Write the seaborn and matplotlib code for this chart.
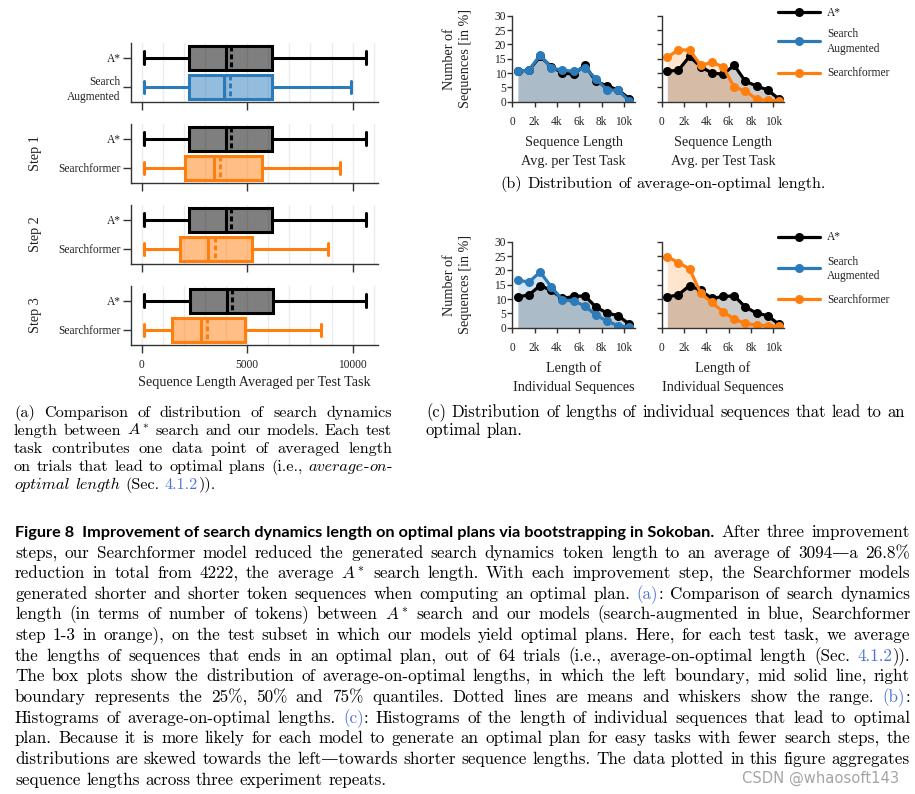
"""
Searchformer figure 8: box plots of search-dynamics length plus
histograms of average-on-optimal / individual sequence lengths.
"""

import math
import re

import matplotlib

matplotlib.use("Agg")
import matplotlib.pyplot as plt
import numpy as np
import seaborn as sns
from matplotlib.backends.backend_agg import get_hinting_flag
from matplotlib.colors import to_rgba
from matplotlib.lines import Line2D

W, H, DPI = 915, 794, 100

# ---- panel (a): box plot summaries [whislo, q1, median, mean, q3, whishi] ----
box_row_titles = ["", "Step 1", "Step 2", "Step 3"]
box_model_labels = ["Search\nAugmented", "Searchformer", "Searchformer", "Searchformer"]
astar_box = [
    [130, 2240, 3980, 4222, 6190, 10650],
    [130, 2240, 3980, 4222, 6190, 10650],
    [130, 2240, 3980, 4222, 6190, 10650],
    [130, 2290, 4040, 4270, 6220, 10650],
]
model_box = [
    [130, 2250, 3890, 4170, 6190, 9940],
    [130, 2040, 3410, 3700, 5690, 9380],
    [100, 1800, 3140, 3470, 5230, 8830],
    [100, 1450, 2820, 3094, 4880, 8510],
]

# ---- panels (b) and (c): histogram values in % at bin centres ----
bin_centres = [500, 1500, 2500, 3500, 4500, 5500, 6500, 7500, 8500, 9500, 10500]
b_astar = [10.6, 11.0, 15.8, 12.2, 10.0, 9.6, 12.7, 7.1, 5.5, 4.1, 1.0]
b_search_aug = [10.7, 11.0, 16.3, 11.7, 11.0, 10.6, 11.9, 8.0, 4.1, 4.0, 0.2]
b_searchformer = [15.5, 18.1, 18.0, 12.7, 13.7, 12.2, 5.0, 3.8, 0.9, 0.5, 0.3]
c_astar = [10.7, 11.5, 14.7, 13.0, 10.2, 10.9, 11.1, 7.2, 5.1, 4.2, 1.2]
c_search_aug = [16.5, 16.0, 19.4, 14.2, 9.7, 9.3, 7.6, 4.4, 2.3, 0.7, 0.2]
c_searchformer = [24.8, 22.7, 20.5, 12.0, 8.8, 5.6, 3.0, 1.5, 0.9, 0.7, 0.5]
hist_xticks = [0, 2000, 4000, 6000, 8000, 10000]
hist_xticklabels = ["0", "2k", "4k", "6k", "8k", "10k"]
legend_labels = ["A*", "Search\nAugmented", "Searchformer"]

# ---- caption text ([..] = link colour, {..} = italic) ----
heading = "Figure 8  Improvement of search dynamics length on optimal plans via bootstrapping in Sokoban."
heading_tail = "After three improvement"
caption_lines = [
    "steps, our Searchformer model reduced the generated search dynamics token length to an average of 3094\u2014a 26.8%",
    "reduction in total from 4222, the average $A^*$ search length. With each improvement step, the Searchformer models",
    "generated shorter and shorter token sequences when computing an optimal plan. [(a)]: Comparison of search dynamics",
    "length (in terms of number of tokens) between $A^*$ search and our models (search-augmented in blue, Searchformer",
    "step 1-3 in orange), on the test subset in which our models yield optimal plans. Here, for each test task, we average",
    "the lengths of sequences that ends in an optimal plan, out of 64 trials (i.e., average-on-optimal length (Sec. [4.1.2])).",
    "The box plots show the distribution of average-on-optimal lengths, in which the left boundary, mid solid line, right",
    "boundary represents the 25%, 50% and 75% quantiles. Dotted lines are means and whiskers show the range. [(b)]:",
    "Histograms of average-on-optimal lengths. [(c)]: Histograms of the length of individual sequences that lead to optimal",
    "plan. Because it is more likely for each model to generate an optimal plan for easy tasks with fewer search steps, the",
    "distributions are skewed towards the left\u2014towards shorter sequence lengths. The data plotted in this figure aggregates",
    "sequence lengths across three experiment repeats.",
]
sub_a_lines = [
    "(a) Comparison of distribution of search dynamics",
    "length between $A^*$ search and our models. Each test",
    "task contributes one data point of averaged length",
    "on trials that lead to optimal plans (i.e., {average-on-}",
    "{optimal} {length} (Sec. [4.1.2])).",
]
sub_b_text = "(b) Distribution of average-on-optimal length."
sub_c_lines = [
    "(c) Distribution of lengths of individual sequences that lead to an",
    "optimal plan.",
]
watermark = "CSDN @whaosoft143"

BLACK = "#000000"
BLUE = "#2b7bba"
ORANGE = "#ff7f0e"
LINK = "#4d72d9"
INK = "#222222"

sns.set_theme(style="ticks")
plt.rcParams["font.family"] = ["Liberation Serif", "DejaVu Serif"]
plt.rcParams["mathtext.fontset"] = "cm"
plt.rcParams["axes.edgecolor"] = "#333333"
plt.rcParams["axes.linewidth"] = 1.0
plt.rcParams["xtick.color"] = "#333333"
plt.rcParams["ytick.color"] = "#333333"
plt.rcParams["xtick.labelcolor"] = INK
plt.rcParams["ytick.labelcolor"] = INK

fig = plt.figure(figsize=(W / DPI, H / DPI), dpi=DPI)
renderer = fig.canvas.get_renderer()


def axes_px(left, top, right, bottom):
    return fig.add_axes([left / W, 1 - bottom / H, (right - left) / W, (bottom - top) / H])


# ---------------- panel (a) ----------------
box_tops = [43, 124, 205, 286]
for i, top in enumerate(box_tops):
    ax = axes_px(131, top, 378, top + 58.5)
    stats = []
    for vals, lab in ((astar_box[i], "A*"), (model_box[i], box_model_labels[i])):
        lo, q1, med, mean, q3, hi = vals
        stats.append(dict(whislo=lo, q1=q1, med=med, mean=mean, q3=q3,
                          whishi=hi, fliers=[], label=lab))
    art = ax.bxp(stats, positions=[0, 1], widths=0.82, capwidths=0.42,
                 orientation="horizontal", patch_artist=True,
                 showmeans=True, meanline=True, showfliers=False)
    colors = [BLACK, BLUE if i == 0 else ORANGE]
    for j, c in enumerate(colors):
        art["boxes"][j].set(facecolor=to_rgba(c, 0.5), edgecolor=c, linewidth=2.2)
        art["medians"][j].set(color=c, linewidth=2.2)
        art["means"][j].set(color=c, linewidth=2.2, linestyle=(0, (1.6, 1.0)))
        for k in (2 * j, 2 * j + 1):
            art["whiskers"][k].set(color=c, linewidth=2.2)
            art["caps"][k].set(color=c, linewidth=2.2)
    ax.set_xlim(-500, 11200)
    ax.set_ylim(1.5, -0.5)
    ax.set_xticks([0, 5000, 10000])
    ax.set_xticks(np.arange(0, 11001, 1000), minor=True)
    ax.grid(axis="x", which="both", color="#ececec", linewidth=1)
    ax.set_axisbelow(True)
    ax.tick_params(axis="x", which="minor", length=0)
    ax.tick_params(axis="both", which="major", length=5.5, width=1, labelsize=8.3)
    ax.tick_params(axis="x", pad=5)
    ax.tick_params(axis="y", pad=2)
    ax.yaxis.get_ticklabels()[1].set_linespacing(1.25)
    if i < 3:
        ax.set_xticklabels([])
    else:
        ax.set_xlabel("Sequence Length Averaged per Test Task", fontsize=10.2, color=INK)
        ax.xaxis.set_label_coords(0.5, -0.54)
    if box_row_titles[i]:
        ax.set_ylabel(box_row_titles[i], fontsize=10.2, color=INK)
        ax.yaxis.set_label_coords(-0.36, 0.5)
    sns.despine(ax=ax)


# ---------------- panels (b) and (c) ----------------
hist_panels = [
    (15.7, b_astar, b_search_aug, b_searchformer, "Sequence Length\nAvg. per Test Task",
     -0.40, [11.7, 40.7, 72.7]),
    (241.7, c_astar, c_search_aug, c_searchformer, "Length of\nIndividual Sequences",
     -0.385, [236.7, 268.3, 299.0]),
]
for top, astar, aug, sf, xlab, xlab_y, legend_rows in hist_panels:
    for col, (left, model_vals, model_col) in enumerate(
            [(512.3, aug, BLUE), (661.7, sf, ORANGE)]):
        ax = axes_px(left, top, left + 122.7, top + 86)
        for vals, c in ((astar, BLACK), (model_vals, model_col)):
            ax.fill_between(bin_centres, vals, color=c, alpha=0.2, linewidth=0)
        for vals, c in ((astar, BLACK), (model_vals, model_col)):
            sns.lineplot(x=bin_centres, y=vals, color=c, marker="o", markersize=6.5,
                         markeredgewidth=0, linewidth=2.3, ax=ax)
        ax.set_xlim(0, 11000)
        ax.set_ylim(0, 30)
        ax.set_xticks(hist_xticks)
        ax.set_xticklabels(hist_xticklabels)
        ax.set_yticks(range(0, 31, 5))
        ax.tick_params(axis="both", length=3.5, width=1, labelsize=8.3)
        ax.tick_params(axis="x", pad=6.5)
        ax.tick_params(axis="y", pad=1)
        if col == 0:
            ax.set_ylabel("Number of\nSequences [in %]", fontsize=10.2, color=INK, linespacing=1.3)
            ax.yaxis.set_label_coords(-0.33, 0.5)
        else:
            ax.set_yticklabels([])
        ax.set_xlabel(xlab, fontsize=10.2, color=INK, linespacing=1.6)
        ax.xaxis.set_label_coords(0.5, xlab_y)
        sns.despine(ax=ax)

    # legend to the right of the second panel
    for y, c, lab in zip(legend_rows, (BLACK, BLUE, ORANGE), legend_labels):
        fig.add_artist(Line2D([778 / W, 820 / W], [1 - y / H, 1 - y / H], color=c, lw=2.3,
                              transform=fig.transFigure))
        fig.add_artist(Line2D([799 / W], [1 - y / H], color=c, marker="o", markersize=6.5,
                              markeredgewidth=0, transform=fig.transFigure))
        fig.text(827 / W, 1 - (y + 0.8) / H, lab, fontsize=8.3, color=INK,
                 ha="left", va="center", linespacing=1.25)


# ---------------- caption text ----------------
STYLES = {
    "roman": dict(family=["cmr10", "DejaVu Serif"], color=BLACK),
    "link": dict(family=["cmr10", "DejaVu Serif"], color=LINK),
    "italic": dict(family=["cmmi10", "DejaVu Serif"], color=BLACK),
    "math": dict(family=["cmr10", "DejaVu Serif"], color=BLACK),
}
_cache = {}


def measure(txt, style, size):
    key = (txt, style, round(size, 4))
    if key not in _cache:
        t = fig.text(0, 0, txt, fontsize=size, **STYLES[style])
        _cache[key] = t.get_window_extent(renderer).width
        t.remove()
    return _cache[key]


def adv_width(txt, style, size):
    if style == "math":
        return measure(txt, style, size)
    return measure("x" + txt + "x", style, size) - measure("xx", style, size)


def word_runs(word):
    runs, buf, mode = [], "", "roman"
    for ch in word + "\0":
        if ch in "[]{}\0":
            if buf:
                runs.append((buf, mode))
            buf = ""
            mode = {"[": "link", "{": "italic"}.get(ch, "roman")
        else:
            buf += ch
    out = []
    for s, m in runs:
        if m == "italic":
            for piece in re.split(r"(-)", s):
                if piece == "-":
                    out.append(("-", "roman"))
                elif piece:
                    out.append((piece, "italic"))
        elif "$" in s:
            out.append((s, "math"))
        else:
            out.append((s, m))
    return out


def snapped_baseline(t, y):
    """y (pixels from top) at which Agg puts this word's baseline on row round(y)."""
    if "$" in t.get_text():
        return y
    font = renderer._prepare_font(t.get_fontproperties())
    font.set_text(t.get_text(), 0, flags=get_hinting_flag())
    h = font.get_width_height()[1] / 64
    d = font.get_descent() / 64
    return round(y) + math.trunc(h) - math.trunc(h - d) - d


def natural_width(line, size):
    words = [word_runs(w) for w in line.split()]
    total = sum(adv_width(t, s, size) for runs in words for t, s in runs)
    return total + (len(words) - 1) * size * DPI / 72 * 0.333


def place_line(line, size, y, x0, x1=None, centre=None):
    words = [word_runs(w) for w in line.split()]
    widths = [[adv_width(t, s, size) for t, s in runs] for runs in words]
    totals = [sum(ws) for ws in widths]
    gap = size * DPI / 72 * 0.333
    if x1 is not None and len(words) > 1:
        gap = (x1 - x0 - sum(totals)) / (len(words) - 1)
    if centre is not None:
        x0 = centre - (sum(totals) + gap * (len(words) - 1)) / 2
    x = x0
    for k, runs in enumerate(words):
        for j, (txt, st) in enumerate(runs):
            t = fig.text(0, 0, txt, fontsize=size, ha="left", va="baseline", **STYLES[st])
            t.set_position((x / W, 1 - snapped_baseline(t, y) / H))
            x += widths[k][j]
        x += gap


def fit_size(lines, avail, base=11.0):
    return min(base * avail / natural_width(l, base) for l in lines) * 0.995


def paragraph(lines, x0, x1, y0, dy, size):
    for k, line in enumerate(lines):
        last = k == len(lines) - 1
        place_line(line, size, y0 + k * dy, x0, None if last else x1)


# subcaptions
size_a = fit_size(sub_a_lines[:-1], 392 - 14)
paragraph(sub_a_lines, 14, 392, 417.3, 17.9, size_a)
size_c = fit_size(sub_c_lines[:-1], 905 - 426)
paragraph(sub_c_lines, 426, 905, 417.3, 17.9, size_c)
place_line(sub_b_text, min(size_a, size_c), 188.5, 0, centre=663)

# main caption
size_m = fit_size(caption_lines[:-1], 910 - 15)
head = fig.text(15 / W, 1 - 537 / H, heading, fontsize=10, fontweight="bold",
                family="Lato", color=BLACK, ha="left", va="baseline")
head.set_fontsize(10 * (712 - 15) / head.get_window_extent(renderer).width)
place_line(heading_tail, size_m, 537, 721, 910)
paragraph(caption_lines, 15, 910, 557.6, 20.63, size_m)

# watermark
wm = fig.text(742 / W, 1 - 783 / H, watermark, fontsize=10, family="DejaVu Sans",
              color="#9a9a9a", ha="left", va="baseline", alpha=0.9)
wm.set_fontsize(10 * 157 / wm.get_window_extent(renderer).width)

fig.savefig("out.png", dpi=DPI)
plt.close(fig)
